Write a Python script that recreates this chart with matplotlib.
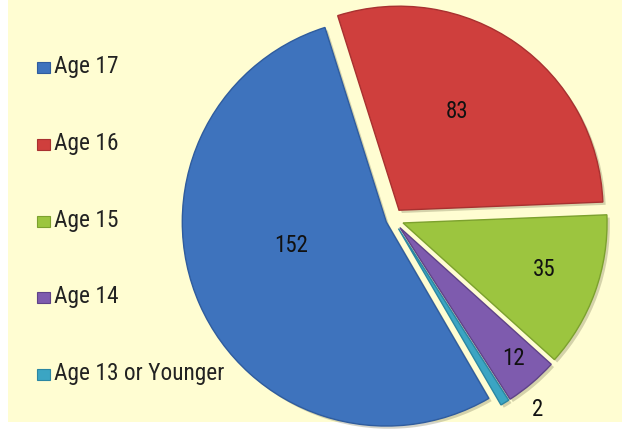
import matplotlib
matplotlib.use('Agg')
import matplotlib.pyplot as plt
from matplotlib.patches import Rectangle
import matplotlib.patheffects as pe
from matplotlib import font_manager
import numpy as np

# ---- data ----
legend_labels = ['Age 17', 'Age 16', 'Age 15', 'Age 14', 'Age 13 or Younger']
legend_values = [152, 83, 35, 12, 2]
slice_colors = ['#3E73BD', '#CF3F3D', '#9CC53F', '#7E5BAE', '#3BA5C3']
edge_colors = ['#2F5C9E', '#A83130', '#7CA12E', '#5F4388', '#2B86A2']
# slices drawn clockwise starting with Age 16
draw_order = [1, 2, 3, 4, 0]

# ---- style / layout ----
explode_px = {0: 7, 1: 11, 2: 11, 3: 11, 4: 11}
label_offset_deg = {0: -10.0, 1: 4.5, 2: 1.6, 3: 0.6, 4: 6.2}
label_dist = {0: 0.48, 1: 0.56, 2: 0.73, 3: 0.85, 4: 1.12}

names = {f.name for f in font_manager.fontManager.ttflist}
narrow = [f for f in ['Liberation Sans Narrow', 'Roboto Condensed',
                      'Open Sans Condensed', 'Arial Narrow'] if f in names]
if narrow:
    FONT = [narrow[0], 'DejaVu Sans']
    LEG_FS, NUM_FS = 16.8, 16.5
else:
    FONT = ['Liberation Sans', 'DejaVu Sans']
    LEG_FS, NUM_FS = 15, 14.5

W, H = 622, 430
fig = plt.figure(figsize=(W / 100, H / 100), dpi=100)
fig.patch.set_facecolor('white')
fig.patches.append(Rectangle((8 / W, 8 / H), 1 - 8 / W, 1 - 8 / H,
                             transform=fig.transFigure, facecolor='#FFFDD2',
                             edgecolor='none', zorder=-5))

ax = fig.add_axes([0, 0, 1, 1])
ax.set_facecolor('none')
ax.set_zorder(1)

vals = [legend_values[i] for i in draw_order]
cols = [slice_colors[i] for i in draw_order]
exps = [explode_px[i] for i in draw_order]
R = 204
wedges, _ = ax.pie(vals, colors=cols, explode=exps, startangle=107.5,
                   counterclock=False, radius=R, center=(392.7, H - 219.2),
                   wedgeprops=dict(linewidth=1.0))
shadow = [pe.SimplePatchShadow(offset=(2, -2), alpha=0.25, shadow_rgbFace='#555533'),
          pe.Normal()]
for w, idx in zip(wedges, draw_order):
    w.set_edgecolor(edge_colors[idx])
    w.set_path_effects(shadow)
    mid = np.deg2rad((w.theta1 + w.theta2) / 2 + label_offset_deg[idx])
    cx, cy = w.center
    d = label_dist[idx] * w.r
    ax.text(cx + d * np.cos(mid), cy + d * np.sin(mid), str(legend_values[idx]),
            ha='center', va='center', fontsize=NUM_FS, family=FONT,
            color='#111111')

ax.set_xlim(0, W)
ax.set_ylim(0, H)
ax.set_aspect('auto')
ax.axis('off')

# ---- legend ----
legend_base = 73
row_step = 76.75
for i, lab in enumerate(legend_labels):
    yb = H - (legend_base + i * row_step)
    fig.patches.append(Rectangle((37 / W, yb / H), 13 / W, 11 / H,
                                 transform=fig.transFigure,
                                 facecolor=slice_colors[i], edgecolor=edge_colors[i],
                                 linewidth=0.8, zorder=3))
    fig.text(54 / W, yb / H, lab, ha='left', va='baseline', fontsize=LEG_FS,
             family=FONT, color='#222222')

fig.savefig('out.png', dpi=100, facecolor=fig.get_facecolor())
